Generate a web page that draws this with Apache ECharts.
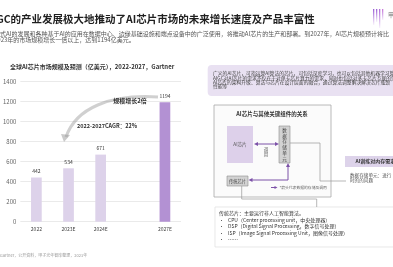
<!DOCTYPE html>
<html><head><meta charset="utf-8">
<script src="https://cdn.jsdelivr.net/npm/echarts@6/dist/echarts.min.js"></script>
<style>html,body{margin:0;padding:0;background:#fff;}#c{width:393px;height:267px;}</style>
</head><body><div id="c"></div>
<script>
// ---- data ----
const categories = ['2022', '2023E', '2024E', '', '2027E'];
const marketSize = [442, 534, 671, null, 1194];   // 亿美元
const yMin = 0, yMax = 1400, yStep = 200;

const F = '"Noto Sans CJK SC", "Noto Sans", sans-serif';
const purple = '#7d52a8';
function txt(x, y, text, size, opts) {
  opts = opts || {};
  return { type: 'text', x: x, y: y, silent: true, z: opts.z || 10,
    style: { text: text, font: (opts.bold ? 'bold ' : '') + size + 'px ' + F,
      fill: opts.fill || '#333', align: opts.align || 'left', verticalAlign: 'middle',
      lineHeight: opts.lh } };
}
function line(pts, color, w, z) {
  return { type: 'polyline', silent: true, z: z || 5, shape: { points: pts },
    style: { stroke: color, lineWidth: w, fill: null } };
}
function tri(pts, color) {
  return { type: 'polygon', silent: true, z: 6, shape: { points: pts }, style: { fill: color } };
}
function rect(x, y, w, h, fill, stroke, r, lw) {
  return { type: 'rect', silent: true, z: 2, shape: { x: x, y: y, width: w, height: h, r: r || 0 },
    style: { fill: fill, stroke: stroke || null, lineWidth: lw || 0.8 } };
}
function bar(x, h, c) {
  return { type: 'rect', silent: true, shape: { x: x, y: 9, width: 1.3, height: h },
    style: { fill: { type: 'linear', x: 0, y: 0, x2: 0, y2: 1, colorStops: [{ offset: 0, color: c }, { offset: 1, color: 'rgba(170,100,215,0.08)' }] } } };
}

const graphics = [
  // header
  txt(-14, 19, 'AIGC的产业发展极大地推动了AI芯片市场的未来增长速度及产品丰富性', 10.5, { bold: true, fill: '#1f1f1f' }),
  txt(-12, 33.5, '生成式AI的发展和各种基于AI的应用在数据中心、边缘基础设施和端点设备中的广泛使用，将推动AI芯片的生产和部署。到2027年，AI芯片规模预计将比', 6, { fill: '#555' }),
  txt(-6, 40, '2023年的市场规模增长一倍以上，达到1194亿美元。', 6, { fill: '#555' }),
  // logo
  bar(373, 16, '#9a5fd6'), bar(376, 13, '#9a5fd6'), bar(379, 19, '#b06ad8'), bar(382, 11, '#c878d8'),
  txt(388, 15, '甲', 6, { fill: '#777' }),
  // chart title & annotations
  txt(10, 67, '全球AI芯片市场规模及预测（亿美元），2022-2027，Gartner', 6, { bold: true, fill: '#333' }),
  { type: 'bezierCurve', silent: true, z: 3, shape: { x1: 158, y1: 97, x2: 66, y2: 137, cpx1: 110, cpy1: 94, cpx2: 76, cpy2: 108 },
    style: { stroke: 'rgba(150,150,150,0.45)', lineWidth: 3, fill: null } },
  tri([[61, 134], [70, 135], [64, 142]], 'rgba(150,150,150,0.5)'),
  txt(130, 101, '规模增长2倍', 6, { bold: true, fill: '#333', align: 'center' }),
  txt(107, 126, '2022-2027CAGR：22%', 5.5, { bold: true, fill: '#333', align: 'center' }),
  txt(-12, 255.5, '来源：Gartner，公开资料，甲子光年智库整理，2023年', 4, { fill: '#9a9a9a' }),
  // right top purple panel
  rect(207.7, 65, 190, 31, '#e9e1f2', null, 4),
  txt(213, 73.3, '广义的AI芯片，可指运算AI算法的芯片，可包括深度学习，也可以包括其他机器学习算法', 4.8, { fill: '#444' }),
  txt(213, 77.7, 'AIGC对AI芯片的需求不仅在于对单卡芯片算力的需求，同时也包括对多卡芯片互联的需求', 4.8, { fill: '#444' }),
  txt(213, 82.1, 'AI芯片的架构升级、算法与芯片在设计层面的融合，通过算法调整解决解决芯片瓶颈', 4.8, { fill: '#444' }),
  txt(213, 86.6, '性能等', 4.8, { fill: '#444' }),
  // diagram
  rect(214, 105, 117, 92, '#fbfbfb', '#a8a8a8', 0, 0.8),
  txt(272, 114, 'AI芯片与其他关键组件的关系', 5.5, { bold: true, fill: '#333', align: 'center' }),
  rect(227, 126, 26, 37, '#ddd0ea', null),
  txt(240, 144, 'AI芯片', 4.6, { fill: '#555', align: 'center' }),
  rect(279, 126, 11, 37, '#d2d2d2', '#8f8f8f', 0, 0.6),
  txt(284.5, 144.5, '数\n据\n存\n储\n单\n元', 4.6, { fill: '#444', align: 'center', lh: 5.8 }),
  txt(266, 152, '调\n用', 4.4, { fill: '#555', align: 'center', lh: 5 }),
  rect(227, 176, 21, 10, '#d2d2d2', '#8f8f8f', 0, 0.6),
  txt(237.5, 181, '传统芯片', 4.2, { fill: '#444', align: 'center' }),
  line([[256, 144], [276, 144]], purple, 1),
  tri([[254, 144], [258, 142], [258, 146]], purple),
  tri([[279, 144], [275, 142], [275, 146]], purple),
  line([[251, 180], [288, 180], [288, 165.5]], purple, 1),
  tri([[248.5, 180], [252.5, 178], [252.5, 182]], purple),
  tri([[288, 163], [286, 167], [290, 167]], purple),
  line([[271, 187.5], [275, 187.5]], purple, 1),
  tri([[277.5, 187.5], [274.5, 186], [274.5, 189]], purple),
  txt(279.5, 187.5, '*箭头代表数据的存储及调用', 3.8, { fill: '#666' }),
  line([[290, 143], [320, 143], [320, 181], [346, 181]], '#9a9a9a', 0.7),
  line([[241.7, 186], [241.7, 199], [316.7, 199], [316.7, 207]], '#9a9a9a', 0.7),
  // right side memory box
  rect(345, 156, 55, 11, '#ddd3ea', null),
  txt(355.5, 161.5, 'AI训练对内存需求', 5, { bold: true, fill: '#333' }),
  txt(350, 175.5, '数据存储单元：进行', 4.6, { fill: '#555' }),
  txt(350, 180.5, '时的的问题', 4.6, { fill: '#555' }),
  // bottom text box
  rect(215, 207, 185, 40, '#ffffff', '#dedede', 0, 0.7),
  txt(219, 213.3, '传统芯片：主要运行非人工智能算法。', 5, { fill: '#333' }),
  txt(219, 220, '•', 5, { fill: '#333' }), txt(228, 220, 'CPU（Center processing unit，中央处理器）', 5, { fill: '#333' }),
  txt(219, 226.5, '•', 5, { fill: '#333' }), txt(228, 226.5, 'DSP（Digital Signal Processing，数字信号处理）', 5, { fill: '#333' }),
  txt(219, 233, '•', 5, { fill: '#333' }), txt(228, 233, 'ISP（Image Signal Processing Unit，图像信号处理）', 5, { fill: '#333' }),
  txt(219, 239.5, '•', 5, { fill: '#333' }), txt(228, 239.5, '……', 5, { fill: '#333' })
];

const chart = echarts.init(document.getElementById('c'), null, { renderer: 'canvas' });
chart.setOption({
  backgroundColor: '#ffffff',
  animation: false,
  grid: { left: 11, width: 170, top: 81.7, height: 140, containLabel: false },
  xAxis: {
    type: 'category', data: categories, boundaryGap: true,
    axisLine: { show: false }, axisTick: { show: false },
    axisLabel: { fontSize: 5, color: '#444', margin: 5, fontFamily: F, interval: 0 }
  },
  yAxis: {
    type: 'value', min: yMin, max: yMax, interval: yStep,
    axisLine: { show: false }, axisTick: { show: false },
    axisLabel: { fontSize: 6, color: '#666', margin: 4, fontFamily: F, formatter: function (v) { return String(v); } },
    splitLine: { lineStyle: { color: '#e4e4e4', width: 0.8 } }
  },
  series: [{
    type: 'bar', data: marketSize, barWidth: 10.7,
    itemStyle: { color: function (p) { return p.name === '2027E' ? '#b391d3' : '#ddd2ea'; } },
    label: { show: true, position: 'top', distance: 4, fontSize: 5, color: '#333', fontFamily: F }
  }],
  graphic: graphics
});
</script></body></html>
